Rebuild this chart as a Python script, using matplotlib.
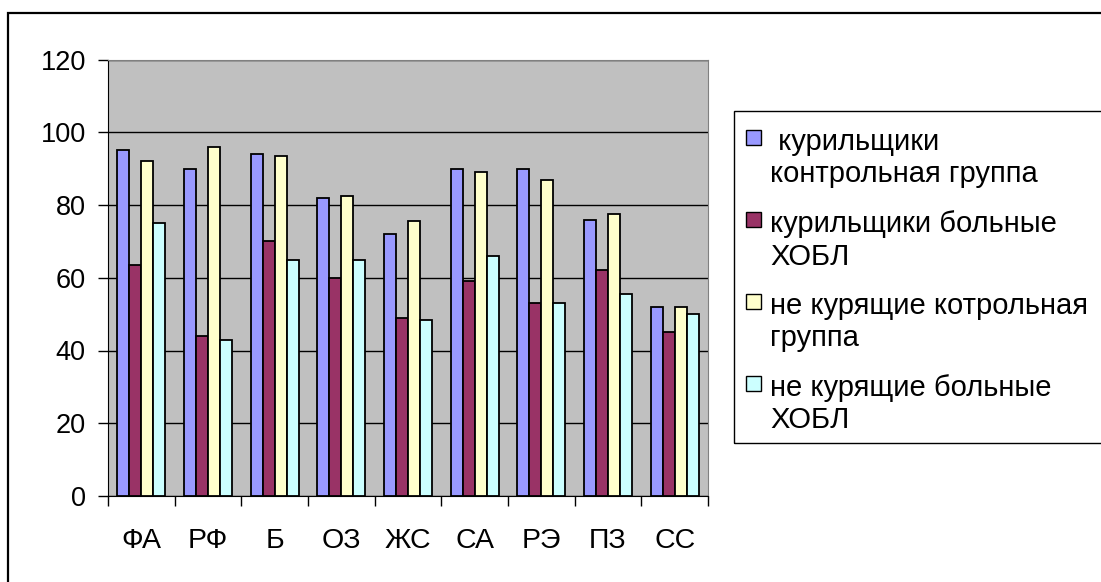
import numpy as np
import matplotlib
matplotlib.use("Agg")
import matplotlib.pyplot as plt
from matplotlib.patches import Rectangle

plt.rcParams['font.family'] = ['Liberation Sans', 'DejaVu Sans']

categories = ["ФА", "РФ", "Б", "ОЗ", "ЖС", "СА", "РЭ", "ПЗ", "СС"]
series_names = [" курильщики\nконтрольная группа",
                "курильщики больные\nХОБЛ",
                "не курящие котрольная\nгруппа",
                "не курящие больные\nХОБЛ"]
smokers_control = [95, 90, 94, 82, 72, 90, 90, 76, 52]
smokers_copd = [63.5, 44, 70, 60, 49, 59, 53, 62, 45]
nonsmokers_control = [92, 96, 93.5, 82.5, 75.5, 89, 87, 77.5, 52]
nonsmokers_copd = [75, 43, 65, 65, 48.5, 66, 53, 55.5, 50]
colors = ["#9999FF", "#993366", "#FFFFCC", "#CCFFFF"]

W, H = 1101, 582
fig = plt.figure(figsize=(W / 100, H / 100), dpi=100)

# outer frame of the chart object (bottom and right run off the picture)
fig.patches.append(Rectangle((8 / W, -0.2), 1.2, 0.2 + (H - 12.5) / H,
                             transform=fig.transFigure, fill=False, ec="black", lw=1.6))

ax = fig.add_axes([108 / W, (H - 496) / H, 600 / W, 436.5 / H])
ax.set_facecolor("#C0C0C0")

data = [smokers_control, smokers_copd, nonsmokers_control, nonsmokers_copd]
x = np.arange(len(categories))
w = 0.18
for i, (vals, c) in enumerate(zip(data, colors)):
    ax.bar(x + (i - 1.5) * w, vals, w, color=c, edgecolor="black", lw=1.3, zorder=3)

ax.set_xlim(-0.5, len(categories) - 0.5)
ax.set_ylim(0, 120)
ax.set_yticks(range(0, 121, 20))
ax.yaxis.grid(True, color="black", lw=1)
ax.set_axisbelow(True)
ax.set_xticks(x)
ax.set_xticklabels(categories)
ax.set_xticks(np.arange(-0.5, len(categories), 1), minor=True)
ax.tick_params(axis="x", which="major", length=0, pad=23, labelsize=20.5)
ax.tick_params(axis="x", which="minor", length=7, width=1, direction="out")
ax.tick_params(axis="y", length=7, width=1, direction="out", pad=9, labelsize=19.5)
for s in ["top", "right"]:
    ax.spines[s].set_color("#808080")
for s in ["left", "bottom"]:
    ax.spines[s].set_color("black")

# legend drawn by hand so the marker sits at the first line of each label
fig.patches.append(Rectangle((734 / W, (H - 443) / H), 1.0, 332 / H,
                             transform=fig.transFigure, fill=False, ec="black", lw=1))
for i, (name, c) in enumerate(zip(series_names, colors)):
    yc = 137.5 + 82 * i
    fig.patches.append(Rectangle((746 / W, (H - yc - 7.5) / H), 15 / W, 15 / H,
                                 transform=fig.transFigure, fc=c, ec="black", lw=1))
    for j, line in enumerate(name.split("\n")):
        fig.text(770 / W, (H - yc - 12 - 33 * j) / H, line, fontsize=21,
                 va="baseline", ha="left")

fig.savefig("out.png", dpi=100)
